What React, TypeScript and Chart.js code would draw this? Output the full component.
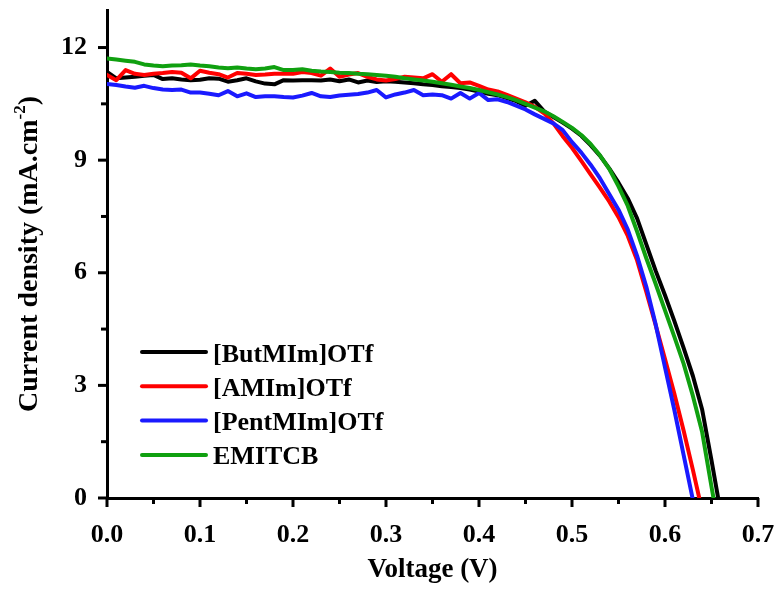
import React, { useEffect, useRef } from 'react';
import { Chart, registerables } from 'chart.js';

Chart.register(...registerables);

const voltage = [
  0.00, 0.01, 0.02, 0.03, 0.04, 0.05, 0.06, 0.07, 0.08, 0.09,
  0.10, 0.11, 0.12, 0.13, 0.14, 0.15, 0.16, 0.17, 0.18, 0.19,
  0.20, 0.21, 0.22, 0.23, 0.24, 0.25, 0.26, 0.27, 0.28, 0.29,
  0.30, 0.31, 0.32, 0.33, 0.34, 0.35, 0.36, 0.37, 0.38, 0.39,
  0.40, 0.41, 0.42, 0.43, 0.44, 0.45, 0.46, 0.47, 0.48, 0.49,
  0.50, 0.51, 0.52, 0.53, 0.54, 0.55, 0.56, 0.57, 0.58, 0.59,
  0.60, 0.61, 0.62, 0.63, 0.64, 0.65, 0.66,
];

const butMImOTf = [
  11.35, 11.18, 11.20, 11.22, 11.25, 11.27, 11.16, 11.18, 11.15, 11.13,
  11.14, 11.18, 11.17, 11.09, 11.13, 11.18, 11.10, 11.04, 11.02, 11.13,
  11.12, 11.13, 11.13, 11.12, 11.15, 11.10, 11.15, 11.07, 11.12, 11.08,
  11.10, 11.09, 11.07, 11.05, 11.02, 11.00, 10.97, 10.95, 10.92, 10.88,
  10.83, 10.77, 10.73, 10.65, 10.57, 10.45, 10.58, 10.30, 10.15, 10.00,
  9.84, 9.65, 9.40, 9.12, 8.78, 8.40, 7.98, 7.45, 6.75, 6.05,
  5.40, 4.72, 4.00, 3.25, 2.35, 1.00, -0.40,
];

const aMImOTf = [
  11.27, 11.13, 11.40, 11.30, 11.27, 11.30, 11.32, 11.35, 11.33, 11.18,
  11.38, 11.33, 11.29, 11.20, 11.32, 11.30, 11.27, 11.28, 11.30, 11.30,
  11.30, 11.35, 11.32, 11.25, 11.44, 11.22, 11.28, 11.32, 11.22, 11.15,
  11.12, 11.16, 11.22, 11.20, 11.18, 11.29, 11.09, 11.29, 11.05, 11.07,
  10.98, 10.88, 10.83, 10.74, 10.64, 10.54, 10.42, 10.25, 9.98, 9.64,
  9.33, 8.98, 8.62, 8.27, 7.90, 7.48, 6.98, 6.33, 5.48, 4.60,
  3.70, 2.78, 1.80, 0.75, -0.35, null, null,
];

const pentMImOTf = [
  11.03, 11.00, 10.96, 10.93, 10.98, 10.92, 10.88, 10.87, 10.88, 10.80,
  10.80, 10.77, 10.73, 10.84, 10.70, 10.78, 10.68, 10.70, 10.70, 10.68,
  10.67, 10.72, 10.79, 10.70, 10.68, 10.72, 10.74, 10.76, 10.80, 10.87,
  10.67, 10.75, 10.80, 10.87, 10.73, 10.75, 10.73, 10.64, 10.79, 10.64,
  10.79, 10.60, 10.62, 10.55, 10.45, 10.35, 10.22, 10.10, 9.98, 9.80,
  9.48, 9.20, 8.88, 8.52, 8.10, 7.68, 7.15, 6.45, 5.62, 4.62,
  3.48, 2.35, 1.15, -0.05, null, null, null,
];

const emitcb = [
  11.71, 11.68, 11.65, 11.62, 11.55, 11.52, 11.50, 11.52, 11.53, 11.55,
  11.52, 11.50, 11.47, 11.45, 11.47, 11.44, 11.42, 11.44, 11.48, 11.40,
  11.40, 11.42, 11.38, 11.36, 11.35, 11.33, 11.32, 11.30, 11.29, 11.27,
  11.25, 11.22, 11.18, 11.15, 11.12, 11.09, 11.05, 11.01, 10.96, 10.92,
  10.87, 10.81, 10.75, 10.68, 10.60, 10.50, 10.40, 10.30, 10.17, 10.02,
  9.86, 9.67, 9.43, 9.13, 8.77, 8.30, 7.78, 7.10, 6.38, 5.70,
  5.00, 4.30, 3.58, 2.72, 1.75, 0.30, -1.10,
];

const seriesLabels = ['[ButMIm]OTf', '[AMIm]OTf', '[PentMIm]OTf', 'EMITCB'];
const seriesValues = [butMImOTf, aMImOTf, pentMImOTf, emitcb];
const seriesColors = ['#000000', '#ff0000', '#1a1aff', '#10a010'];
const seriesOrder = [3, 2, 1, 0];

const xTitle = 'Voltage (V)';
const yTitleMain = 'Current density (mA.cm';
const yTitleSup = '-2';
const yTitleEnd = ')';

const FONT = '"Liberation Serif", "Times New Roman", serif';

const decorPlugin = {
  id: 'decor',
  afterDraw(chart: any) {
    const ctx = chart.ctx as CanvasRenderingContext2D;
    const area = chart.chartArea;
    const xs = chart.scales.x;
    const ys = chart.scales.y;
    ctx.save();
    ctx.strokeStyle = '#000';
    ctx.lineWidth = 3;
    ctx.lineCap = 'butt';
    // x tick marks
    xs.ticks.forEach((t: any) => {
      const px = xs.getPixelForValue(t.value);
      const major = Math.round(t.value * 100) % 10 === 0;
      ctx.beginPath();
      ctx.moveTo(px, area.bottom);
      ctx.lineTo(px, area.bottom + (major ? 9 : 6));
      ctx.stroke();
    });
    // y tick marks
    ys.ticks.forEach((t: any) => {
      const py = ys.getPixelForValue(t.value);
      const major = Math.round(t.value * 2) % 6 === 0;
      ctx.beginPath();
      ctx.moveTo(area.left, py);
      ctx.lineTo(area.left - (major ? 9 : 6), py);
      ctx.stroke();
    });

    // y title with superscript
    const cy = (area.top + area.bottom) / 2;
    ctx.fillStyle = '#000';
    ctx.translate(37, cy);
    ctx.rotate(-Math.PI / 2);
    ctx.textBaseline = 'alphabetic';
    ctx.textAlign = 'left';
    const mainFont = `bold 28px ${FONT}`;
    const supFont = `bold 17px ${FONT}`;
    ctx.font = mainFont;
    const wMain = ctx.measureText(yTitleMain).width;
    const wEnd = ctx.measureText(yTitleEnd).width;
    ctx.font = supFont;
    const wSup = ctx.measureText(yTitleSup).width;
    const total = wMain + wSup + wEnd;
    let x0 = -total / 2;
    ctx.font = mainFont;
    ctx.fillText(yTitleMain, x0, 0);
    x0 += wMain;
    ctx.font = supFont;
    ctx.fillText(yTitleSup, x0, -12);
    x0 += wSup;
    ctx.font = mainFont;
    ctx.fillText(yTitleEnd, x0, 0);
    ctx.restore();

    // legend
    ctx.save();
    ctx.font = `bold 26px ${FONT}`;
    ctx.textBaseline = 'alphabetic';
    ctx.textAlign = 'left';
    chart.data.datasets.forEach((ds: any, i: number) => {
      const y = area.top + 342 + i * 34.3;
      ctx.strokeStyle = ds.borderColor;
      ctx.lineWidth = 4;
      ctx.lineCap = 'round';
      ctx.beginPath();
      ctx.moveTo(area.left + 35, y);
      ctx.lineTo(area.left + 99, y);
      ctx.stroke();
      ctx.fillStyle = '#000';
      ctx.fillText(ds.label, area.left + 106, y + 9.5);
    });
    ctx.restore();
  },
};

export default function App() {
  const canvasRef = useRef<HTMLCanvasElement | null>(null);

  useEffect(() => {
    if (!canvasRef.current) return;
    const datasets = seriesLabels.map((label, s) => ({
      label,
      data: voltage
        .map((v, i) => ({ x: v, y: seriesValues[s][i] }))
        .filter((p) => p.y !== null),
      borderColor: seriesColors[s],
      backgroundColor: seriesColors[s],
      borderWidth: 4,
      pointRadius: 0,
      tension: 0,
      fill: false,
      showLine: true,
      borderJoinStyle: 'round' as const,
      borderCapStyle: 'round' as const,
      order: seriesOrder[s],
      clip: { left: 0, top: 5, right: 5, bottom: 0 },
    }));

    const chart = new Chart(canvasRef.current, {
      type: 'scatter',
      data: { datasets },
      options: {
        animation: false,
        responsive: false,
        maintainAspectRatio: false,
        layout: { padding: { top: 10, right: 24, left: 0, bottom: 0 } },
        plugins: {
          legend: { display: false },
          tooltip: { enabled: false },
        },
        scales: {
          x: {
            type: 'linear',
            position: 'bottom',
            min: 0,
            max: 0.7,
            afterFit: (s: any) => {
              s.height = 95;
              s.paddingLeft = 0;
              s.paddingRight = 0;
            },
            grid: { display: false },
            border: { display: true, color: '#000', width: 3 },
            ticks: {
              stepSize: 0.05,
              autoSkip: false,
              maxRotation: 0,
              minRotation: 0,
              padding: 14,
              color: '#000',
              font: { family: FONT, size: 26, weight: 'bold' },
              callback: (v: any) =>
                Math.round(Number(v) * 100) % 10 === 0 ? Number(v).toFixed(1) : '',
            },
            title: {
              display: true,
              text: xTitle,
              color: '#000',
              font: { family: FONT, size: 27, weight: 'bold' },
              padding: { top: 0, bottom: 7 },
            },
          },
          y: {
            type: 'linear',
            min: 0,
            max: 13,
            afterFit: (s: any) => {
              s.width = 107;
              s.paddingTop = 0;
              s.paddingBottom = 0;
            },
            grid: { display: false },
            border: { display: true, color: '#000', width: 3 },
            ticks: {
              stepSize: 1.5,
              includeBounds: false,
              autoSkip: false,
              padding: 12,
              color: '#000',
              font: { family: FONT, size: 26, weight: 'bold' },
              callback: (v: any) =>
                Math.round(Number(v) * 2) % 6 === 0 ? String(Math.round(Number(v))) : '',
            },
          },
        },
      } as any,
      plugins: [decorPlugin],
    });
    return () => chart.destroy();
  }, []);

  return (
    <div style={{ position: 'fixed', left: 0, top: 0, width: 782, height: 593, background: '#fff' }}>
      <canvas ref={canvasRef} width={782} height={593} />
    </div>
  );
}
